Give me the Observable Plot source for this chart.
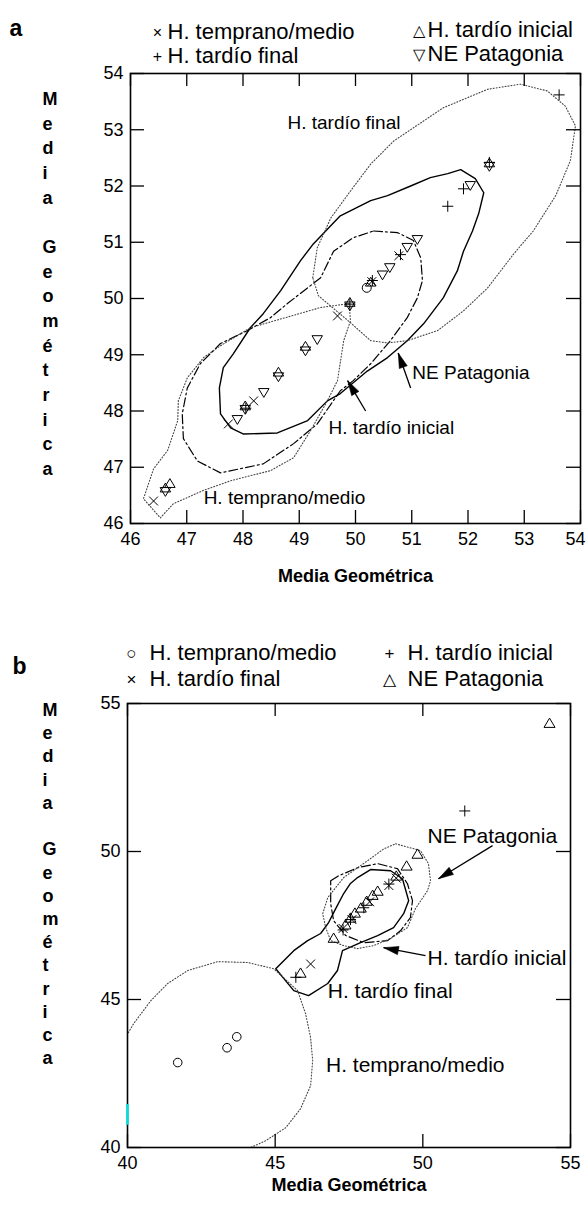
<!DOCTYPE html>
<html><head><meta charset="utf-8">
<script src="https://cdn.jsdelivr.net/npm/d3@7"></script>
<script src="https://cdn.jsdelivr.net/npm/@observablehq/plot@0.6"></script>
<style>
body{margin:0;background:#fff;}
#wrap{width:586px;height:1213px;position:relative;overflow:hidden;background:#fff;}
#wrap svg{display:block;}
</style></head><body><div id="wrap"></div>
<script>
const FONT = '"Liberation Sans", Arial, Helvetica, sans-serif';

// ---------------- Panel a data ----------------
const aTicks = [46,47,48,49,50,51,52,53,54];
const aTempranoMedio = [[46.41,46.40],[47.74,47.77],[48.19,48.18],[49.68,49.69],[50.29,50.30],[50.77,50.76]];
const aTardioFinal = [[48.05,48.05],[49.90,49.90],[50.30,50.32],[50.80,50.78],[51.64,51.64],[51.92,51.95],[52.38,52.42],[53.62,53.62]];
const aTardioInicial = [[46.62,46.62],[46.70,46.70],[48.04,48.08],[48.63,48.68],[49.11,49.14],[49.90,49.92],[50.27,50.28],[52.38,52.40]];
const aNEPatagonia = [[46.62,46.58],[47.90,47.86],[48.04,48.04],[48.37,48.34],[48.63,48.62],[49.11,49.08],[49.32,49.28],[49.90,49.88],[50.48,50.43],[50.61,50.56],[50.92,50.92],[51.10,51.06],[52.04,52.02],[52.38,52.36]];
const aOther = [[50.20,50.19]];

const aContourNE = [[48.01,47.59],[48.61,47.61],[49.15,47.83],[49.50,48.18],[49.73,48.31],[50.21,48.71],[50.57,48.95],[50.92,49.25],[51.21,49.55],[51.56,50.01],[51.81,50.49],[51.92,50.84],[52.08,51.20],[52.19,51.51],[52.28,51.88],[52.13,52.13],[51.87,52.29],[51.64,52.22],[51.33,52.15],[50.98,52.00],[50.57,51.83],[50.27,51.74],[49.73,51.47],[49.47,51.20],[49.25,50.97],[49.02,50.67],[48.67,50.14],[48.36,49.73],[48.13,49.48],[47.83,49.02],[47.65,48.77],[47.58,48.41],[47.60,47.95],[47.78,47.70]];
const aContourTI = [[50.32,51.20],[50.75,51.17],[51.03,51.03],[51.16,50.72],[51.19,50.32],[51.10,50.01],[50.92,49.66],[50.62,49.25],[50.27,48.84],[49.96,48.54],[49.73,48.36],[49.32,47.77],[48.90,47.42],[48.36,47.06],[47.60,46.90],[47.19,47.11],[46.94,47.51],[46.92,47.95],[47.01,48.41],[47.24,48.84],[47.60,49.20],[48.08,49.43],[48.49,49.66],[48.79,49.91],[49.15,50.19],[49.38,50.37],[49.61,50.84],[49.96,51.08]];
const aContourTF = [[49.24,50.37],[49.32,50.90],[49.56,51.43],[49.91,51.91],[50.27,52.39],[50.68,52.80],[51.56,53.39],[52.35,53.72],[52.93,53.81],[53.41,53.69],[53.73,53.42],[53.91,53.07],[53.82,52.45],[53.56,51.83],[53.16,51.20],[52.81,50.79],[52.35,50.19],[51.92,49.78],[51.46,49.43],[50.92,49.25],[50.57,49.21],[50.27,49.25],[49.91,49.57],[49.34,50.05]];
const aContourTM = [[49.89,49.91],[49.91,49.60],[49.79,49.25],[49.68,48.54],[49.50,48.18],[49.20,47.65],[48.90,47.17],[48.49,46.94],[47.78,46.76],[47.30,46.59],[46.76,46.35],[46.53,46.10],[46.23,46.44],[46.41,46.97],[46.66,47.30],[46.84,47.83],[46.85,48.18],[47.01,48.59],[47.30,48.95],[47.60,49.16],[48.13,49.48],[49.38,49.84]];

const aLabels = [
  {x:48.79, y:53.12, t:"H. tardío final"},
  {x:51.01, y:48.68, t:"NE Patagonia"},
  {x:49.52, y:47.70, t:"H. tardío inicial"},
  {x:47.30, y:46.46, t:"H. temprano/medio"}
];
const aArrows = [
  {x1:50.98, y1:48.41, x2:50.76, y2:49.03},
  {x1:50.18, y1:48.00, x2:49.86, y2:48.54}
];
const aLegendSym = ["×", "+", "△", "▽"];
const aLegendText = ["H. temprano/medio", "H. tardío final", "H. tardío inicial", "NE Patagonia"];

// ---------------- Panel b data ----------------
const bTicks = [40,45,50,55];
const bTempranoMedio = [[41.70,42.87],[43.37,43.37],[43.70,43.74]];
const bTardioFinal = [[46.20,46.20],[47.30,47.40],[47.60,47.70],[48.20,48.30],[48.85,48.85],[49.10,49.10]];
const bTardioInicial = [[45.70,45.75],[47.30,47.35],[47.55,47.70],[48.00,48.10],[48.85,48.90],[51.42,51.37]];
const bNEPatagonia = [[45.86,45.87],[46.98,47.05],[47.38,47.50],[47.55,47.73],[47.70,47.90],[47.90,48.07],[48.10,48.30],[48.30,48.50],[48.47,48.64],[49.10,49.15],[49.45,49.49],[49.82,49.89],[54.29,54.31]];

const bContourTF = [[45.02,46.04],[45.63,46.65],[46.10,46.99],[46.54,47.23],[46.81,47.60],[47.05,48.07],[47.32,48.58],[47.55,48.92],[47.79,49.12],[48.23,49.39],[48.91,49.35],[49.31,49.08],[49.52,48.34],[49.35,47.90],[49.01,47.43],[48.47,47.16],[47.89,46.92],[47.28,46.65],[47.11,45.98],[46.78,45.54],[46.13,45.13],[45.63,45.30]];
const bContourTI = [[46.88,49.01],[47.15,49.18],[47.79,49.45],[48.47,49.59],[49.14,49.42],[49.48,48.91],[49.65,48.34],[49.58,47.77],[49.25,47.33],[48.81,46.99],[48.00,46.92],[47.39,47.16],[46.98,47.66],[46.88,48.24]];
const bContourNE = [[49.08,50.26],[49.92,50.03],[50.19,49.59],[50.26,49.01],[50.16,48.68],[49.75,48.07],[49.48,47.43],[48.91,47.06],[48.33,46.82],[47.79,46.72],[47.32,46.82],[46.88,46.99],[46.71,47.43],[46.61,47.90],[46.78,48.44],[47.32,49.12],[48.13,49.69],[48.68,50.09]];
const bContourTM = [[39.90,43.60],[40.01,43.85],[40.21,44.19],[40.79,44.96],[41.36,45.54],[42.04,45.98],[43.06,46.28],[44.07,46.25],[44.95,46.04],[45.76,45.30],[46.03,44.52],[46.20,43.71],[46.27,42.94],[46.20,42.09],[45.86,41.31],[45.36,40.67],[44.68,40.23],[44.17,40.00],[43.90,39.85]];

const bLabels = [
  {x:50.16, y:50.53, t:"NE Patagonia"},
  {x:50.16, y:46.38, t:"H. tardío inicial"},
  {x:46.78, y:45.27, t:"H. tardío final"},
  {x:46.72, y:42.77, t:"H. temprano/medio"}
];
const bArrows = [
  {x1:52.36, y1:50.20, x2:50.53, y2:49.08},
  {x1:50.09, y1:46.48, x2:48.67, y2:46.75}
];
const bLegendSym = ["○", "×", "+", "△"];
const bLegendText = ["H. temprano/medio", "H. tardío final", "H. tardío inicial", "NE Patagonia"];
const bCyan = [{x:40, y1:40.75, y2:41.45}];

const yTitle = "M\ne\nd\ni\na\n\nG\ne\no\nm\né\nt\nr\ni\nc\na";
const xTitle = "Media Geométrica";

// ---------------- symbols ----------------
const rad = s => Math.sqrt(s / Math.PI);
const symTimes = {draw(c, s){const r = rad(s)*0.8; c.moveTo(-r,-r); c.lineTo(r,r); c.moveTo(-r,r); c.lineTo(r,-r);}};
const symPlus = {draw(c, s){const r = rad(s); c.moveTo(-r,0); c.lineTo(r,0); c.moveTo(0,-r); c.lineTo(0,r);}};
const symUp = {draw(c, s){const r = rad(s); c.moveTo(0,-r); c.lineTo(r*0.95,r*0.6); c.lineTo(-r*0.95,r*0.6); c.closePath();}};
const symDown = {draw(c, s){const r = rad(s); c.moveTo(0,r); c.lineTo(r*0.95,-r*0.6); c.lineTo(-r*0.95,-r*0.6); c.closePath();}};
const symHead = {draw(c, s){c.moveTo(0,0); c.lineTo(-15,-4.2); c.lineTo(-15,4.2); c.closePath();}};

const toPts = a => a.map(([x,y]) => ({x, y}));
const headData = arr => arr.map(d => ({x:d.x2, y:d.y2, a: Math.atan2(-(d.y2-d.y1), d.x2-d.x1) * 180 / Math.PI}));

function panel(o) {
  const fw = o.width - o.ml - o.mr, fh = o.height - o.mt - o.mb;
  const dotSty = {x:"x", y:"y", stroke:"black", strokeWidth:1, fill:"none"};
  const legendMarks = [];
  o.legText.forEach((t, i) => {
    const col = i < 2 ? 0 : 1, row = i % 2;
    const base = o.legBase[col][row] - o.mt;
    legendMarks.push(Plot.text([t], {frameAnchor:"top-left", textAnchor:"start", lineAnchor:"bottom", fontSize: o.legFont,
      dx: o.legTextX[col] - o.ml, dy: base}));
    legendMarks.push(Plot.text([o.legSym[i]], {frameAnchor:"top-left", textAnchor:"middle", lineAnchor:"bottom", fontSize: o.legSymFont,
      dx: o.legSymX[col] - o.ml, dy: base - 1}));
  });
  const lastX = o.ticks[o.ticks.length - 1];
  const xLabelTicks = o.shiftLast ? o.ticks.slice(0, -1) : o.ticks;
  return Plot.plot({
    width: o.width, height: o.height,
    marginLeft: o.ml, marginRight: o.mr, marginTop: o.mt, marginBottom: o.mb,
    x: {domain: o.domain, label: null},
    y: {domain: o.domain, label: null},
    style: {fontFamily: FONT, fontSize: "17px", background: "white", color: "black", overflow: "visible"},
    marks: [
      ...o.contours.map(c => Plot.line(toPts(c.data), {x:"x", y:"y", curve: c.closed === false ? "linear" : "linear-closed", stroke: c.stroke, strokeWidth: c.sw, strokeDasharray: c.dash, clip: true})),
      Plot.tickX(o.ticks, {x: d => d, insetTop: fh - 13, stroke:"black", strokeWidth:1.3}),
      Plot.tickX(o.ticks, {x: d => d, insetBottom: fh - 13, stroke:"black", strokeWidth:1.3}),
      Plot.tickY(o.ticks, {y: d => d, insetRight: fw - 14, stroke:"black", strokeWidth:1.3}),
      Plot.tickY(o.ticks, {y: d => d, insetLeft: fw - 14, stroke:"black", strokeWidth:1.3}),
      Plot.axisX({anchor:"bottom", ticks: xLabelTicks, tickSize: 0, tickPadding: 9, fontSize: o.tickFont, tickFormat: d => String(d)}),
      ...(o.shiftLast ? [Plot.text([lastX], {x: d => d, frameAnchor:"bottom", lineAnchor:"top", textAnchor:"end", dx: o.shiftLast, dy: 9, fontSize: o.tickFont, text: d => String(d)})] : []),
      Plot.axisY({anchor:"left", ticks: o.ticks, tickSize: 0, tickPadding: 7, fontSize: o.tickFont, tickFormat: d => String(d)}),
      Plot.frame({stroke:"black", strokeWidth:1.6}),
      ...(o.extra || []),
      ...o.series.map(s => Plot.dot(toPts(s.data), {...dotSty, symbol: s.symbol, r: s.r})),
      Plot.text(o.labels, {x:"x", y:"y", text:"t", textAnchor:"start", fontSize: o.annFont, fill:"black"}),
      Plot.link(o.arrows, {x1:"x1", y1:"y1", x2:"x2", y2:"y2", stroke:"black", strokeWidth:1.3}),
      Plot.dot(headData(o.arrows), {x:"x", y:"y", rotate:"a", symbol: symHead, fill:"black", stroke:"black", strokeWidth:0.5, r:5}),
      Plot.text([xTitle], {frameAnchor:"bottom", dy: o.xTitleDy, fontWeight:"bold", fontSize: o.titleFont}),
      Plot.text([yTitle], {frameAnchor:"top-left", dx: o.yTitleDx, dy: o.yTitleDy, lineAnchor:"top", lineHeight: o.yTitleLH, fontWeight:"bold", fontSize: o.titleFont}),
      Plot.text([o.letter], {frameAnchor:"top-left", dx: o.letterDx, dy: o.letterDy, fontWeight:"bold", fontSize: 23, textAnchor:"start"}),
      ...legendMarks
    ]
  });
}

const wrap = document.getElementById("wrap");

const figA = panel({
  width: 586, height: 600, ml: 130, mr: 6, mt: 73, mb: 77,
  domain: [46, 54], ticks: aTicks, tickFont: 18, annFont: 19, titleFont: 18, shiftLast: 5,
  contours: [
    {data: aContourNE, stroke:"black", sw:1.4, dash:null},
    {data: aContourTI, stroke:"black", sw:1.2, dash:"9,3,2,3"},
    {data: aContourTF, stroke:"#444", sw:1.1, dash:"1,2"},
    {data: aContourTM, stroke:"#444", sw:1.1, dash:"1,2"}
  ],
  series: [
    {data: aTempranoMedio, symbol: symTimes, r: 5.5},
    {data: aTardioFinal, symbol: symPlus, r: 5.5},
    {data: aTardioInicial, symbol: symUp, r: 5.5},
    {data: aNEPatagonia, symbol: symDown, r: 5.5},
    {data: aOther, symbol: "circle", r: 4.5}
  ],
  labels: aLabels, arrows: aArrows,
  xTitleDy: 58, yTitleDx: -88, yTitleDy: 14, yTitleLH: 1.37,
  letter: "a", letterDx: -121, letterDy: -54,
  legText: aLegendText, legSym: aLegendSym, legFont: 22, legSymFont: 16,
  legTextX: [167, 427], legSymX: [157, 418], legBase: [[38, 62], [36, 60]]
});
wrap.appendChild(figA);

const figB = panel({
  width: 586, height: 613, ml: 127, mr: 16, mt: 103, mb: 66,
  domain: [40, 55], ticks: bTicks, tickFont: 18, annFont: 21, titleFont: 18, shiftLast: 0,
  contours: [
    {data: bContourTF, stroke:"black", sw:1.4, dash:null},
    {data: bContourTI, stroke:"black", sw:1.2, dash:"9,3,2,3"},
    {data: bContourNE, stroke:"#444", sw:1.1, dash:"1,2"},
    {data: bContourTM, stroke:"#444", sw:1.1, dash:"1,2", closed:false}
  ],
  series: [
    {data: bTempranoMedio, symbol: "circle", r: 4.3},
    {data: bTardioFinal, symbol: symTimes, r: 5.5},
    {data: bTardioInicial, symbol: symPlus, r: 5.5},
    {data: bNEPatagonia, symbol: symUp, r: 5.8}
  ],
  extra: [Plot.ruleX(bCyan, {x:"x", y1:"y1", y2:"y2", stroke:"#00e0e0", strokeWidth:2.5})],
  labels: bLabels, arrows: bArrows,
  xTitleDy: 43, yTitleDx: -85, yTitleDy: -4, yTitleLH: 1.29,
  letter: "b", letterDx: -115, letterDy: -46,
  legText: bLegendText, legSym: bLegendSym, legFont: 22, legSymFont: 17,
  legTextX: [149, 407], legSymX: [131, 389], legBase: [[59, 85], [59, 85]]
});
wrap.appendChild(figB);
</script></body></html>
